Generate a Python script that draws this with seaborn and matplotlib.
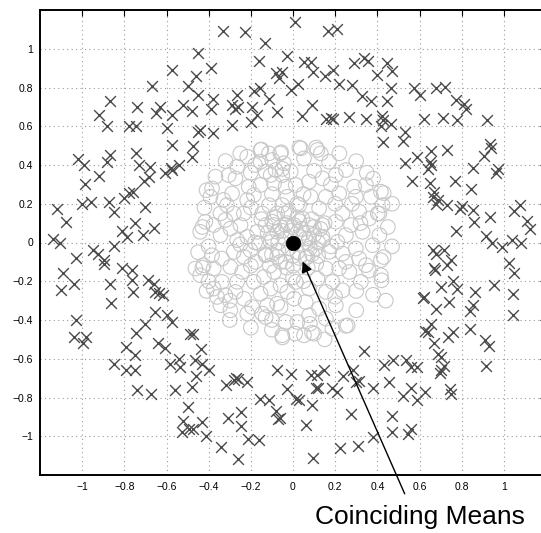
import numpy as np
import pandas as pd
import matplotlib
matplotlib.use("Agg")
import matplotlib.pyplot as plt
import seaborn as sns
from matplotlib.ticker import FuncFormatter

# ring class ("x" markers), (x, y), grouped by area
ring_top_left = [
    (-0.45, 0.98), (-0.575, 0.89), (-0.46, 0.86), (-0.67, 0.81), (-0.50, 0.81),
    (-0.45, 0.76), (-0.87, 0.73), (-0.74, 0.70), (-0.63, 0.70), (-0.65, 0.67),
    (-0.575, 0.66), (-0.52, 0.71), (-0.48, 0.68), (-0.92, 0.66), (-0.88, 0.60),
    (-0.78, 0.60), (-0.745, 0.60), (-0.60, 0.59), (-0.45, 0.57), (-0.44, 0.58),
    (-0.575, 0.505), (-0.475, 0.50), (-0.745, 0.46), (-0.87, 0.45), (-1.02, 0.43),
    (-0.48, 0.44), (-0.88, 0.415), (-0.99, 0.40), (-0.73, 0.40), (-0.68, 0.39),
    (-0.58, 0.385), (-0.54, 0.40),
]
ring_top = [
    (0.01, 1.14), (-0.33, 1.09), (-0.23, 1.085), (0.165, 1.09), (0.21, 1.10),
    (-0.135, 1.03), (-0.16, 0.935), (-0.03, 0.965), (-0.39, 0.90), (0.05, 0.93),
    (0.087, 0.93), (0.097, 0.88), (0.15, 0.86), (0.19, 0.89), (0.29, 0.925),
    (-0.08, 0.875), (-0.05, 0.88), (-0.067, 0.85), (0.024, 0.82), (-0.01, 0.785),
    (0.22, 0.82), (0.28, 0.815), (0.325, 0.755), (-0.38, 0.74), (-0.39, 0.69),
    (-0.265, 0.76), (-0.29, 0.71), (-0.26, 0.70), (-0.275, 0.69), (-0.185, 0.78),
    (-0.155, 0.795), (-0.115, 0.74), (-0.195, 0.70), (-0.17, 0.66), (-0.20, 0.62),
    (-0.078, 0.675), (0.092, 0.71), (0.044, 0.655), (0.156, 0.64), (0.18, 0.645),
    (0.19, 0.64), (0.267, 0.65), (0.346, 0.64), (-0.29, 0.605), (-0.38, 0.565),
]
ring_top_right = [
    (0.335, 0.95), (0.355, 0.935), (0.445, 0.925), (0.47, 0.885), (0.40, 0.865),
    (0.465, 0.795), (0.576, 0.795), (0.60, 0.76), (0.68, 0.80), (0.72, 0.805),
    (0.37, 0.73), (0.446, 0.73), (0.775, 0.735), (0.81, 0.715), (0.82, 0.69),
    (0.42, 0.655), (0.425, 0.63), (0.418, 0.60), (0.465, 0.61), (0.62, 0.64),
    (0.71, 0.645), (0.78, 0.63), (0.92, 0.63), (0.53, 0.57), (0.52, 0.525),
    (0.425, 0.52), (0.655, 0.47), (0.73, 0.48), (0.59, 0.44), (0.935, 0.51),
    (0.94, 0.49), (0.905, 0.445), (0.53, 0.41), (0.65, 0.415), (0.655, 0.40),
    (0.855, 0.385), (0.97, 0.38),
]
ring_left = [
    (-0.605, 0.36), (-0.575, 0.375), (-0.92, 0.345), (-0.985, 0.30), (-0.685, 0.34),
    (-0.705, 0.315), (-0.76, 0.26), (-0.78, 0.255), (-0.80, 0.23), (-1.00, 0.20),
    (-0.96, 0.21), (-0.875, 0.21), (-1.12, 0.175), (-0.85, 0.155), (-0.70, 0.185),
    (-1.075, 0.105), (-0.75, 0.10), (-0.81, 0.06), (-0.785, 0.03), (-0.66, 0.075),
    (-0.71, 0.04), (-1.14, 0.02), (-1.105, 0.0), (-0.85, -0.02), (-0.95, -0.04),
    (-0.925, -0.06), (-1.03, -0.08), (-0.895, -0.09), (-0.895, -0.11), (-0.81, -0.13),
    (-0.765, -0.14), (-1.09, -0.155), (-1.04, -0.215), (-1.10, -0.245), (-0.87, -0.215),
    (-0.765, -0.195), (-0.76, -0.255), (-0.69, -0.195), (-0.66, -0.215), (-0.655, -0.255),
    (-0.615, -0.27), (-0.635, -0.26), (-0.865, -0.31), (-0.655, -0.36), (-0.60, -0.375),
    (-1.03, -0.40),
]
ring_right = [
    (0.64, 0.38), (0.965, 0.36), (0.565, 0.32), (0.65, 0.305), (0.77, 0.32),
    (0.845, 0.275), (0.67, 0.26), (0.665, 0.235), (0.69, 0.22), (0.68, 0.20),
    (0.73, 0.195), (0.80, 0.19), (0.79, 0.175), (0.855, 0.17), (0.86, 0.105),
    (0.935, 0.13), (1.075, 0.195), (1.05, 0.165), (1.11, 0.11), (1.125, 0.07),
    (0.775, 0.06), (0.915, 0.035), (0.945, 0.0), (0.99, -0.025), (1.04, 0.015),
    (1.08, 0.0), (0.665, -0.04), (0.68, -0.06), (0.715, -0.04), (0.75, -0.09),
    (0.73, -0.115), (0.67, -0.13), (0.675, -0.14), (1.025, -0.105), (1.05, -0.155),
    (0.76, -0.20), (0.70, -0.23), (0.78, -0.24), (0.865, -0.255), (0.955, -0.22),
    (1.045, -0.265), (0.62, -0.28), (0.615, -0.285), (0.74, -0.305), (0.68, -0.345),
    (0.855, -0.325), (0.84, -0.355), (1.045, -0.375),
]
ring_bottom_left = [
    (-0.575, -0.41), (-0.70, -0.42), (-0.745, -0.465), (-1.04, -0.49), (-0.98, -0.49),
    (-0.995, -0.52), (-0.49, -0.47), (-0.475, -0.47), (-0.64, -0.52), (-0.605, -0.545),
    (-0.79, -0.54), (-0.75, -0.58), (-0.435, -0.55), (-0.85, -0.625), (-0.79, -0.66),
    (-0.75, -0.66), (-0.585, -0.625), (-0.54, -0.60), (-0.535, -0.645), (-0.465, -0.605),
    (-0.43, -0.625), (-0.46, -0.69), (-0.48, -0.745), (-0.74, -0.76), (-0.675, -0.78),
    (-0.56, -0.76), (-0.50, -0.85), (-0.52, -0.92), (-0.525, -0.98), (-0.495, -0.965),
    (-0.475, -0.965), (-0.43, -0.925), (-0.415, -1.00),
]
ring_bottom = [
    (-0.40, -0.66), (-0.32, -0.735), (-0.28, -0.71), (-0.26, -0.705), (-0.27, -0.70),
    (-0.22, -0.72), (-0.075, -0.66), (-0.01, -0.68), (0.085, -0.685), (0.115, -0.685),
    (0.148, -0.66), (0.108, -0.75), (0.12, -0.75), (-0.027, -0.755), (0.187, -0.75),
    (0.21, -0.77), (0.235, -0.69), (0.283, -0.66), (0.30, -0.72), (0.338, -0.56),
    (-0.155, -0.81), (-0.115, -0.815), (0.013, -0.81), (0.03, -0.815), (-0.083, -0.87),
    (-0.06, -0.905), (-0.07, -0.91), (0.09, -0.84), (0.275, -0.885), (0.06, -0.94),
    (-0.31, -0.905), (-0.245, -0.875), (-0.245, -0.945), (-0.215, -1.015), (-0.16, -1.02),
    (-0.34, -1.055), (-0.26, -1.115), (0.097, -1.11), (0.222, -1.06), (0.306, -1.05),
]
ring_bottom_right = [
    (0.653, -0.42), (0.627, -0.455), (0.64, -0.46), (0.735, -0.49), (0.76, -0.46),
    (0.84, -0.445), (0.667, -0.52), (0.91, -0.505), (0.93, -0.535), (0.69, -0.575),
    (0.70, -0.59), (0.433, -0.63), (0.473, -0.605), (0.537, -0.605), (0.56, -0.645),
    (0.59, -0.645), (0.716, -0.635), (0.70, -0.66), (0.695, -0.675), (0.915, -0.635),
    (0.315, -0.715), (0.378, -0.75), (0.457, -0.72), (0.56, -0.75), (0.52, -0.79),
    (0.587, -0.815), (0.627, -0.77), (0.746, -0.755), (0.748, -0.78), (0.468, -0.895),
    (0.468, -0.98), (0.545, -0.99), (0.56, -0.965), (0.38, -1.005),
]

# inner class ("o" markers)
blob_left = [
    (-0.154, 0.478), (-0.114, 0.46), (-0.056, 0.466), (-0.154, 0.417), (-0.098, 0.426),
    (-0.043, 0.409), (-0.217, 0.443), (-0.083, 0.374), (-0.13, 0.366), (-0.106, 0.348),
    (-0.051, 0.348), (-0.011, 0.366), (-0.265, 0.391), (-0.305, 0.348), (-0.368, 0.34),
    (-0.273, 0.331), (-0.384, 0.279), (-0.392, 0.236), (-0.289, 0.253), (-0.21, 0.288),
    (-0.186, 0.245), (-0.217, 0.219), (-0.154, 0.297), (-0.09, 0.305), (-0.035, 0.288),
    (-0.027, 0.236), (-0.313, 0.193), (-0.344, 0.15), (-0.321, 0.116), (-0.281, 0.15),
    (-0.233, 0.15), (-0.249, 0.09), (-0.297, 0.072), (-0.376, 0.09), (-0.416, 0.107),
    (-0.44, 0.055), (-0.344, 0.038), (-0.265, 0.012), (-0.217, 0.029), (-0.17, 0.055),
    (-0.13, 0.09), (-0.098, 0.107), (-0.075, 0.15), (-0.146, 0.15), (-0.114, 0.193),
    (-0.051, 0.193), (-0.075, 0.055), (-0.035, 0.09), (-0.106, 0.003), (-0.162, -0.005),
    (-0.202, -0.04), (-0.233, -0.074), (-0.281, -0.048), (-0.337, -0.083), (-0.384, -0.066),
    (-0.424, -0.117), (-0.463, -0.134), (-0.44, -0.169), (-0.376, -0.134), (-0.297, -0.126),
    (-0.241, -0.152), (-0.178, -0.1), (-0.13, -0.066), (-0.075, -0.074), (-0.035, -0.1),
    (-0.09, -0.152), (-0.138, -0.178), (-0.186, -0.203), (-0.265, -0.203), (-0.337, -0.203),
    (-0.376, -0.238), (-0.36, -0.281), (-0.321, -0.272), (-0.273, -0.255), (-0.233, -0.29),
    (-0.194, -0.333), (-0.154, -0.264), (-0.106, -0.238), (-0.059, -0.221), (-0.027, -0.255),
    (-0.075, -0.316), (-0.122, -0.324), (-0.217, -0.367), (-0.297, -0.35), (-0.344, -0.324),
    (-0.146, -0.367), (-0.059, -0.333), (-0.035, -0.41), (-0.051, -0.479),
    (-0.43, 0.08), (-0.43, -0.13), (-0.41, 0.27), (-0.15, 0.48), (-0.06, 0.46),
    (-0.05, -0.49), (-0.13, -0.385),
    (-0.32, 0.42), (-0.2, 0.36), (-0.25, 0.46), (-0.42, 0.18), (-0.4, -0.02),
    (-0.45, -0.05), (-0.41, -0.25), (-0.3, -0.4), (-0.2, -0.44), (-0.1, -0.45),
    (-0.05, 0.38), (-0.18, 0.4), (-0.33, 0.22), (-0.2, 0.18), (-0.1, 0.25),
    (-0.1, -0.4), (-0.2, -0.12), (-0.3, -0.3), (-0.4, -0.2), (-0.25, -0.01),
]
blob_right = [
    (0.037, 0.486), (0.116, 0.478), (0.132, 0.46), (0.052, 0.434), (0.171, 0.417),
    (0.203, 0.348), (0.251, 0.374), (0.14, 0.331), (0.076, 0.314), (0.013, 0.297),
    (0.29, 0.288), (0.346, 0.297), (0.417, 0.262), (0.37, 0.236), (0.298, 0.236),
    (0.219, 0.253), (0.156, 0.236), (0.084, 0.236), (0.029, 0.193), (0.124, 0.176),
    (0.235, 0.15), (0.314, 0.159), (0.402, 0.15), (0.425, 0.193), (0.362, 0.124),
    (0.275, 0.09), (0.203, 0.107), (0.14, 0.09), (0.076, 0.09), (0.044, 0.124),
    (0.005, 0.09), (0.33, 0.055), (0.251, 0.038), (0.211, 0.003), (0.14, 0.012),
    (0.076, 0.021), (0.41, 0.038), (0.378, -0.014), (0.298, -0.031), (0.235, -0.057),
    (0.171, -0.048), (0.108, -0.031), (0.068, -0.074), (0.314, -0.083), (0.346, -0.117),
    (0.417, -0.091), (0.417, -0.169), (0.322, -0.203), (0.267, -0.152), (0.219, -0.134),
    (0.156, -0.134), (0.116, -0.186), (0.187, -0.203), (0.235, -0.247), (0.156, -0.255),
    (0.076, -0.238), (0.013, -0.203), (0.005, -0.29), (0.06, -0.307), (0.124, -0.341),
    (0.203, -0.324), (0.156, -0.393), (0.076, -0.376), (0.021, -0.41), (0.1, -0.471),
    (0.052, -0.479), (0.259, -0.428), (0.187, -0.445),
    (0.43, 0.255), (0.41, 0.15), (0.47, -0.02), (0.43, -0.075), (0.42, -0.195),
    (0.36, -0.145), (0.03, 0.49), (0.11, 0.49), (0.01, -0.47), (0.09, -0.465),
    (0.25, -0.43),
    (0.3, 0.42), (0.35, 0.36), (0.22, 0.46), (0.15, -0.5), (0.3, -0.35),
    (0.38, -0.27), (0.44, -0.3), (0.45, 0.08), (0.47, 0.2), (0.38, 0.33),
    (0.2, 0.2), (0.18, 0.3), (0.1, 0.37), (0.05, 0.25), (0.28, 0.2),
    (0.32, 0.1), (0.25, -0.1), (0.3, -0.25), (0.2, -0.28), (0.08, -0.42),
]
blob_core = [
    (0.05, 0.05), (-0.05, 0.06), (0.08, -0.03), (-0.07, -0.04), (0.03, -0.08),
    (-0.03, 0.1), (0.1, 0.08), (-0.1, 0.02), (0.02, 0.13), (0.12, -0.07),
    (-0.06, -0.1), (0.06, 0.02), (-0.02, -0.03), (0.04, 0.07), (-0.09, 0.09),
    (0.09, 0.12), (0.14, 0.03), (-0.13, -0.06), (0.0, -0.12), (0.07, -0.13),
    (-0.04, 0.15), (0.15, 0.1), (-0.15, 0.12), (0.11, -0.11), (-0.11, -0.12),
    (0.02, 0.2), (0.18, -0.02), (-0.18, 0.0), (0.0, -0.18), (0.05, -0.2),
    (0.03, 0.03), (-0.04, 0.02), (0.02, -0.05), (-0.01, 0.06), (0.07, 0.0),
    (-0.07, 0.0), (0.0, 0.08), (0.0, -0.07), (0.1, 0.04), (-0.1, -0.06),
    (0.06, -0.08), (-0.06, 0.08), (0.12, 0.0), (-0.12, 0.05), (0.03, 0.11),
    (-0.03, -0.13), (0.09, -0.06), (-0.09, 0.13), (0.13, 0.07), (-0.02, 0.16),
]

mean_x = [0.0]
mean_y = [0.0]

x_ticks = [-1, -0.8, -0.6, -0.4, -0.2, 0, 0.2, 0.4, 0.6, 0.8, 1]
y_ticks = [-1, -0.8, -0.6, -0.4, -0.2, 0, 0.2, 0.4, 0.6, 0.8, 1]
label_text = "Coinciding Means"

ring = pd.DataFrame(ring_top_left + ring_top + ring_top_right + ring_left + ring_right
                    + ring_bottom_left + ring_bottom + ring_bottom_right, columns=["x", "y"])
blob = pd.DataFrame(blob_left + blob_right + blob_core, columns=["x", "y"])

sns.set_style("white")
plt.rcParams["font.family"] = ["Liberation Sans", "DejaVu Sans"]

fig = plt.figure(figsize=(5.41, 5.33), dpi=100)
ax = fig.add_axes([40 / 541, 58 / 533, 506 / 541, 465 / 533])

sns.scatterplot(data=blob, x="x", y="y", marker="o", s=110, color="#c8c8c8",
                facecolors="none", edgecolor="#c8c8c8", linewidth=0.8, ax=ax, zorder=2)
sns.scatterplot(data=ring, x="x", y="y", marker="x", s=60, color="#4a4a4a",
                linewidth=1.0, ax=ax, zorder=3)
sns.scatterplot(x=mean_x, y=mean_y, marker="o", s=110, color="black",
                edgecolor="black", linewidth=0.5, ax=ax, zorder=4)

ax.set_xlim(-1.2, 1.2)
ax.set_ylim(-1.2, 1.2)
ax.set_xticks(x_ticks)
ax.set_yticks(y_ticks)
fmt = FuncFormatter(lambda v, p: ("%g" % v).replace("-", "\u2212"))
ax.xaxis.set_major_formatter(fmt)
ax.yaxis.set_major_formatter(fmt)
ax.set_xlabel("")
ax.set_ylabel("")
ax.tick_params(direction="in", top=True, right=True, length=4, width=0.8,
               labelsize=7.5, colors="black", pad=5)
ax.grid(True, color="#9a9a9a", linestyle=(0, (1, 3)), linewidth=0.8)
for sp in ax.spines.values():
    sp.set_color("black")
    sp.set_linewidth(1.4)

ax.annotate("", xy=(0.04, -0.085), xytext=(0.535, -1.31),
            arrowprops=dict(arrowstyle="-|>", color="black", lw=1.0, mutation_scale=16),
            annotation_clip=False, zorder=5)
ax.text(0.6, -1.455, label_text, ha="center", va="baseline", fontsize=19,
        color="black", clip_on=False)

fig.savefig("out.png", dpi=100)
